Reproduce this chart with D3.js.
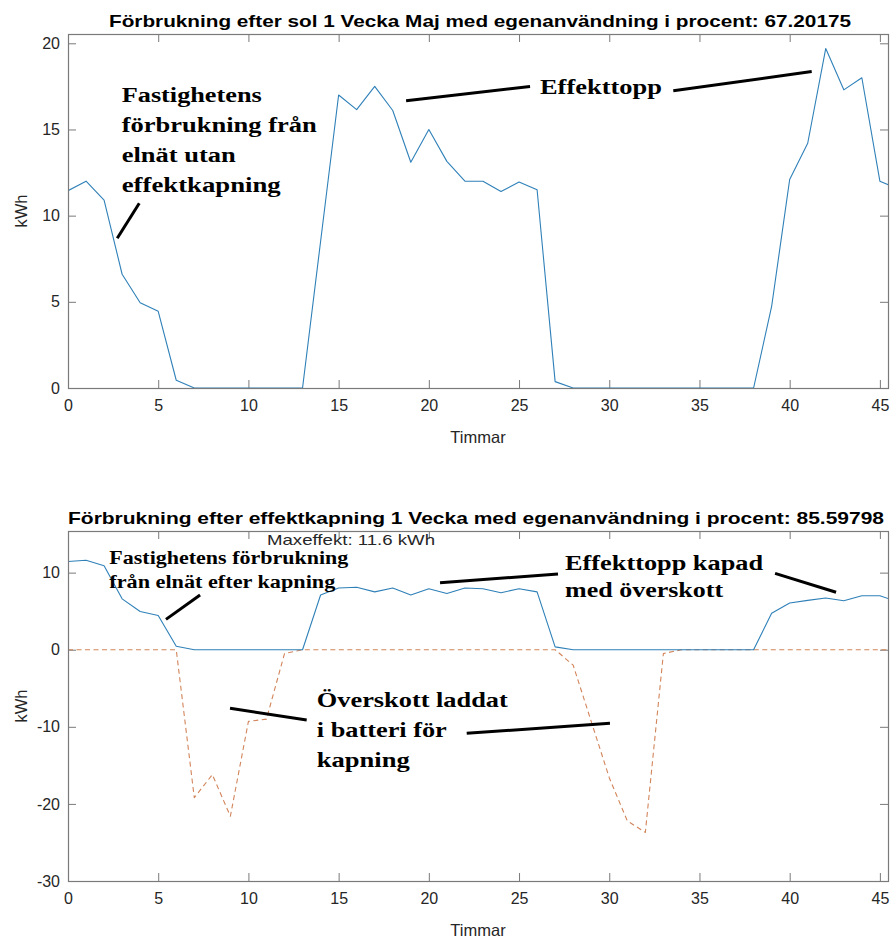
<!DOCTYPE html>
<html>
<head>
<meta charset="utf-8">
<script src="https://cdn.jsdelivr.net/npm/d3@7"></script>
<style>
  body { margin: 0; background: #fff; }
  svg { display: block; }
</style>
</head>
<body>
<svg id="fig" width="892" height="940"></svg>
<script>
// Hourly values, hours 0..46
const hours = d3.range(0, 47);

// Grid consumption after solar, without peak shaving (kWh)
const loadBefore = [
  11.45, 12.0, 10.9, 6.6, 4.95, 4.45, 0.45, 0, 0, 0,
  0, 0, 0, 0, 8.5, 17.0, 16.15, 17.5, 16.1, 13.1,
  15.0, 13.15, 12.0, 12.0, 11.4, 11.95, 11.5, 0.37, 0, 0,
  0, 0, 0, 0, 0, 0, 0, 0, 0, 4.73,
  12.1, 14.2, 19.7, 17.3, 18.0, 12.0, 11.55
];

// Grid consumption after peak shaving (kWh)
const loadAfter = [
  11.45, 11.6, 10.9, 6.6, 4.95, 4.45, 0.45, 0, 0, 0,
  0, 0, 0, 0, 7.1, 8.0, 8.1, 7.5, 8.0, 7.1,
  7.9, 7.3, 8.0, 7.9, 7.4, 7.9, 7.5, 0.37, 0, 0,
  0, 0, 0, 0, 0, 0, 0, 0, 0, 4.73,
  6.05, 6.4, 6.7, 6.35, 7.0, 7.0, 6.2
];

// Surplus charged into the battery (kWh, negative)
const surplus = [
  0, 0, 0, 0, 0, 0, 0, -19.2, -16.2, -21.6,
  -9.3, -9.0, -0.5, 0, 0, 0, 0, 0, 0, 0,
  0, 0, 0, 0, 0, 0, 0, 0, -2.0, -9.3,
  -16.6, -22.2, -23.7, -0.5, 0, 0, 0, 0, 0, 0,
  0, 0, 0, 0, 0, 0, 0
];

const xTicks = [0, 5, 10, 15, 20, 25, 30, 35, 40, 45];
const yTicksTop = [0, 5, 10, 15, 20];
const yTicksBottom = [-30, -20, -10, 0, 10];

const titleTop = "Förbrukning efter sol 1 Vecka Maj med egenanvändning i procent: 67.20175";
const titleBottom = "Förbrukning efter effektkapning 1 Vecka med egenanvändning i procent: 85.59798";
const maxEffektLabel = "Maxeffekt: 11.6 kWh";
const xLabel = "Timmar";
const yLabel = "kWh";

// Callout texts and leader lines, positioned in data units
const notesTop = [
  { lines: ["Fastighetens", "förbrukning från", "elnät utan", "effektkapning"],
    x: 2.98, y: 16.6, widths: [140, 195, 114, 159], size: 20, lead: 30 },
  { lines: ["Effekttopp"], x: 26.16, y: 17.05, widths: [122], size: 20, lead: 30 }
];
const leadersTop = [
  [[3.95, 10.72], [2.73, 8.69]],
  [[18.74, 16.67], [25.61, 17.49]],
  [[33.55, 17.25], [41.22, 18.36]]
];
const notesBottom = [
  { lines: ["Fastighetens förbrukning", "från elnät efter kapning"],
    x: 2.29, y: 11.1, widths: [239, 226], size: 18, lead: 24 },
  { lines: ["Effekttopp kapad", "med överskott"],
    x: 27.55, y: 10.3, widths: [198, 158], size: 20, lead: 27 },
  { lines: ["Överskott laddat", "i batteri för", "kapning"],
    x: 13.79, y: -7.45, widths: [191, 130, 93], size: 21, lead: 30 }
];
const leadersBottom = [
  [[7.32, 7.1], [5.43, 3.94]],
  [[20.62, 8.69], [27.16, 9.82]],
  [[39.19, 9.91], [42.57, 7.45]],
  [[8.98, -7.6], [13.23, -9.12]],
  [[22.1, -10.85], [30.04, -9.55]]
];

const svg = d3.select("#fig");
const sans = "'Liberation Sans', Arial, Helvetica, sans-serif";
const serif = "'Liberation Serif', 'Times New Roman', serif";
const boxColor = "#7a7a7a";
const textColor = "#262626";
const blue = "#2f80b8";
const orange = "#d2845a";

const left = 68, right = 888;
// Plain hyphen for negative tick labels
const plainNumber = d => String(d).replace("\u2212", "-");

function panel(opts) {
  const g = svg.append("g");
  const x = d3.scaleLinear().domain([0, 45.45]).range([left, right]);
  const y = d3.scaleLinear().domain(opts.yDomain).range([opts.bottom, opts.top]);
  const clipId = "clip" + opts.id;

  svg.append("clipPath").attr("id", clipId)
    .append("rect")
    .attr("x", left).attr("y", opts.top)
    .attr("width", right - left).attr("height", opts.bottom - opts.top);

  // Ticks pointing inward on all four sides
  const tick = 8;
  const axB = d3.axisBottom(x).tickValues(xTicks).tickFormat(plainNumber)
    .tickSizeInner(-tick).tickSizeOuter(0).tickPadding(12);
  const axT = d3.axisTop(x).tickValues(xTicks).tickSizeInner(-tick).tickSizeOuter(0).tickFormat("");
  const axL = d3.axisLeft(y).tickValues(opts.yTicks).tickFormat(plainNumber)
    .tickSizeInner(-tick).tickSizeOuter(0).tickPadding(8);
  const axR = d3.axisRight(y).tickValues(opts.yTicks).tickSizeInner(-tick).tickSizeOuter(0).tickFormat("");

  const gB = g.append("g").attr("transform", `translate(0,${opts.bottom})`).call(axB);
  const gT = g.append("g").attr("transform", `translate(0,${opts.top})`).call(axT);
  const gL = g.append("g").attr("transform", `translate(${left},0)`).call(axL);
  const gR = g.append("g").attr("transform", `translate(${right},0)`).call(axR);
  [gB, gT, gL, gR].forEach(a => {
    a.select(".domain").remove();
    a.selectAll(".tick line").attr("stroke", boxColor).attr("stroke-width", 1);
    a.selectAll(".tick text").attr("fill", textColor)
      .style("font-family", sans).style("font-size", "16px");
  });

  // Data lines
  const line = d3.line().x((d, i) => x(hours[i])).y(d => y(d));
  opts.series.forEach(s => {
    g.append("path").datum(s.values)
      .attr("clip-path", `url(#${clipId})`)
      .attr("fill", "none")
      .attr("stroke", s.color)
      .attr("stroke-width", s.width)
      .attr("stroke-dasharray", s.dash || null)
      .attr("stroke-linejoin", "round")
      .attr("d", line);
  });

  // Axes box
  g.append("rect")
    .attr("x", left + 0.5).attr("y", opts.top + 0.5)
    .attr("width", right - left).attr("height", opts.bottom - opts.top)
    .attr("fill", "none").attr("stroke", boxColor).attr("stroke-width", 1.2);

  // Title
  g.append("text")
    .attr("x", (left + right) / 2 + opts.titleShift).attr("y", opts.titleY)
    .attr("text-anchor", "middle")
    .attr("textLength", opts.titleWidth).attr("lengthAdjust", "spacingAndGlyphs")
    .style("font-family", sans).style("font-weight", "bold").style("font-size", "16.5px")
    .attr("fill", "#000").text(opts.title);

  // Axis labels
  g.append("text")
    .attr("x", (left + right) / 2).attr("y", opts.bottom + 55)
    .attr("text-anchor", "middle")
    .style("font-family", sans).style("font-size", "16.5px")
    .attr("fill", textColor).text(xLabel);
  g.append("text")
    .attr("transform", `translate(27,${(opts.top + opts.bottom) / 2}) rotate(-90)`)
    .attr("text-anchor", "middle")
    .style("font-family", sans).style("font-size", "16.5px")
    .attr("fill", textColor).text(yLabel);

  // Callouts
  opts.notes.forEach(n => {
    const t = g.append("text")
      .style("font-family", serif).style("font-weight", "bold")
      .style("font-size", n.size + "px").attr("fill", "#000");
    n.lines.forEach((ln, i) => {
      t.append("tspan")
        .attr("x", x(n.x)).attr("y", y(n.y) + i * n.lead)
        .attr("textLength", n.widths[i]).attr("lengthAdjust", "spacingAndGlyphs")
        .text(ln);
    });
  });
  opts.leaders.forEach(l => {
    g.append("line")
      .attr("x1", x(l[0][0])).attr("y1", y(l[0][1]))
      .attr("x2", x(l[1][0])).attr("y2", y(l[1][1]))
      .attr("stroke", "#000").attr("stroke-width", 3).attr("stroke-linecap", "butt");
  });

  return { g, x, y };
}

panel({
  id: "Top", top: 34, bottom: 388, yDomain: [0, 20.54], yTicks: yTicksTop,
  title: titleTop, titleY: 27, titleWidth: 742, titleShift: 2,
  series: [{ values: loadBefore, color: blue, width: 1.1 }],
  notes: notesTop, leaders: leadersTop
});

const bottomPanel = panel({
  id: "Bottom", top: 531, bottom: 881, yDomain: [-30, 15.4], yTicks: yTicksBottom,
  title: titleBottom, titleY: 524, titleWidth: 816, titleShift: -2,
  series: [
    { values: surplus, color: orange, width: 1.1, dash: "5,3.5" },
    { values: loadAfter, color: blue, width: 1.1 }
  ],
  notes: notesBottom, leaders: leadersBottom
});

// Peak annotation inside the lower axes
bottomPanel.g.append("text")
  .attr("x", 267).attr("y", 545)
  .attr("textLength", 168).attr("lengthAdjust", "spacingAndGlyphs")
  .style("font-family", sans).style("font-size", "14.5px")
  .attr("fill", textColor).text(maxEffektLabel);
</script>
</body>
</html>
